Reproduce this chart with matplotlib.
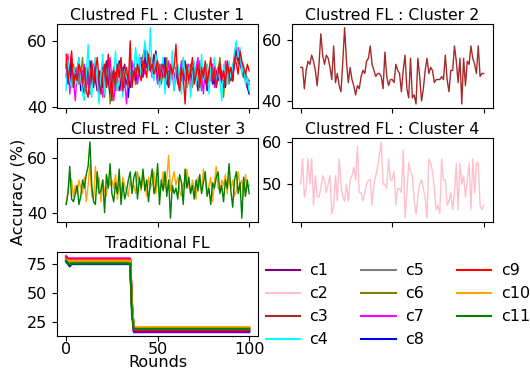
import matplotlib.pyplot as plt
import numpy as np

plt.rcParams['font.size'] = 11.5

names = ['c1', 'c2', 'c3', 'c4', 'c5', 'c6', 'c7', 'c8', 'c9', 'c10', 'c11']
colors = ['purple', 'pink', 'brown', 'cyan', 'gray', 'olive', 'magenta',
          'blue', 'red', 'orange', 'green']

# clustered FL accuracy per client
c1 = [52,50,47,53,49,51,48,52,50,46,44,49,51,47,50,53,48,45,51,49,
      46,50,54,48,44,47,52,50,49,45,48,51,53,47,50,46,49,52,48,51,
      50,53,49,55,52,54,51,53,56,52,50,47,51,49,53,48,46,50,52,49,
      51,47,50,48,53,49,46,51,50,48,52,49,45,51,53,50,48,46,50,52,
      49,47,51,50,53,48,46,50,52,49,51,48,55,57,54,56,52,50,48,46,47]
c4 = [45,54,48,46,52,50,47,55,49,44,42,50,59,46,43,52,55,48,41,50,
      56,44,49,53,47,42,50,57,45,48,55,43,51,49,47,54,46,52,58,50,
      56,49,53,60,55,51,64,50,48,56,53,46,50,55,44,52,49,47,57,45,
      51,53,48,44,55,50,46,52,43,49,54,47,51,45,56,48,50,53,44,52,
      49,55,46,51,48,42,53,50,47,54,49,52,57,60,55,58,50,53,47,49,45]
c5 = [50,49,51,48,50,52,49,47,51,50,48,50,52,49,47,51,50,49,48,51,
      50,52,49,47,50,48,51,50,49,52,48,50,51,49,50,48,52,50,49,51,
      50,52,51,53,52,54,53,52,55,52,51,50,52,49,51,50,48,51,50,49,
      51,50,48,50,52,49,51,50,48,51,50,49,51,48,50,52,49,51,50,48,
      50,49,51,50,52,49,48,51,50,49,52,50,53,55,54,56,53,51,50,49,48]
c6 = [54,48,51,46,53,49,52,47,50,55,45,48,52,44,50,47,53,49,46,51,
      48,43,50,54,41,47,52,45,49,53,48,44,51,50,46,55,48,52,47,50,
      54,51,56,52,57,53,55,50,52,54,49,53,47,51,48,55,46,50,53,47,
      52,49,45,50,55,48,51,47,53,46,50,52,48,54,45,51,49,53,47,50,
      48,52,46,51,55,49,43,50,53,47,51,48,56,58,53,57,52,49,51,47,48]
c7 = [49,56,44,52,48,42,51,55,47,50,53,46,49,44,52,48,54,45,50,47,
      43,51,46,49,55,48,42,47,53,50,45,52,48,41,50,46,54,49,52,47,
      51,55,53,50,57,54,52,49,55,51,47,52,49,53,46,50,54,48,51,45,
      52,48,50,54,47,51,49,53,46,50,48,52,55,47,50,44,52,49,51,48,
      53,46,50,52,48,51,47,54,49,50,52,48,54,56,58,55,53,51,49,47,48]
c8 = [53,47,51,55,46,50,48,53,45,51,49,52,47,54,50,46,52,48,44,50,
      53,49,46,52,50,47,51,45,49,54,48,52,46,50,43,51,49,53,47,50,
      52,55,51,59,53,56,51,54,50,57,52,48,53,50,55,47,51,49,53,46,
      50,52,47,51,49,54,48,50,46,52,49,51,47,53,50,48,52,45,49,51,
      47,53,50,48,52,49,51,46,50,53,48,52,55,57,54,53,51,49,50,46,44]
c9 = [56,48,52,57,46,50,48,53,51,47,52,45,43,49,54,47,51,55,48,44,
      50,53,46,56,48,42,51,47,53,49,55,45,50,52,47,60,46,51,49,53,
      50,48,54,52,49,56,51,53,50,52,54,48,51,53,49,52,47,53,50,52,
      59,48,45,52,49,41,53,48,51,55,47,50,53,46,52,49,54,47,51,55,
      48,52,46,50,53,48,51,47,54,50,52,48,55,53,50,57,54,52,50,53,51]
c3 = [51,51,44,50,53,52,55,53,50,45,52,62,55,52,55,54,51,47,58,46,
      49,45,43,53,64,53,46,51,47,45,42,45,44,48,50,49,53,54,58,52,
      50,48,49,49,48,44,56,48,45,47,47,46,52,50,49,43,50,55,44,41,
      54,41,42,39,54,48,40,44,50,54,49,51,50,46,47,47,47,48,47,55,
      47,43,50,50,58,53,46,54,39,54,45,53,52,58,54,52,49,58,48,49,49]
c10 = [43,48,53,52,46,50,47,52,49,47,53,44,50,58,46,45,57,49,53,44,
       52,48,46,53,50,52,49,54,45,51,47,53,50,48,46,52,49,50,47,55,
       52,48,54,51,46,53,49,51,55,47,52,48,50,55,49,53,61,48,52,55,
       50,53,48,46,51,49,56,50,47,52,49,45,53,50,48,56,52,47,50,53,
       44,51,57,49,48,52,50,54,47,53,49,52,46,48,55,50,52,46,54,49,50]
c11 = [43,47,57,45,44,47,50,43,46,52,49,54,57,66,50,44,43,55,47,48,
       52,40,54,49,58,47,44,51,47,56,43,51,45,48,52,55,47,53,55,45,
       53,49,56,48,52,44,51,56,47,50,58,43,52,48,55,46,52,38,50,47,
       49,45,54,51,43,56,49,53,47,50,45,52,48,54,47,51,55,46,49,43,
       51,49,53,55,47,50,44,52,49,58,48,42,52,55,47,51,38,53,46,52,47]
c2 = [50,56,47,49,56,50,56,45,52,47,47,49,52,51,48,50,52,43,45,52,
      46,56,50,47,46,50,46,51,52,54,51,59,48,48,46,48,50,51,51,45,
      50,52,54,57,60,50,50,49,56,51,51,53,45,49,49,48,58,42,48,55,
      53,52,46,43,47,50,51,49,47,42,56,55,53,49,44,45,43,56,51,51,
      45,46,48,44,48,55,44,55,50,52,47,51,55,44,56,48,55,55,45,44,45]

# drawing order inside each cluster panel
clusters = {
    1: {'c8': c8, 'c6': c6, 'c5': c5, 'c7': c7, 'c1': c1, 'c4': c4, 'c9': c9},
    2: {'c3': c3},
    3: {'c10': c10, 'c11': c11},
    4: {'c2': c2},
}

# traditional FL: flat then collapse around round 36
trad = {
    'c1':  [80, 77, 75.5, 76] + [76]*32 + [38] + [17.5]*64,
    'c2':  [81, 79, 79.5, 79.5] + [79.5]*32 + [40] + [18.5]*64,
    'c3':  [79, 78, 77.5, 77.5] + [77.5]*32 + [39] + [18.5]*64,
    'c4':  [78, 76, 76.5, 76.5] + [76.5]*32 + [37] + [19]*64,
    'c5':  [80, 78, 78.5, 78.5] + [78.5]*32 + [40] + [20]*64,
    'c6':  [79, 77, 77, 77] + [77]*32 + [38] + [20.5]*64,
    'c7':  [82, 80, 80, 80] + [80]*32 + [41] + [16.5]*64,
    'c8':  [77, 75, 73, 75] + [75]*32 + [35] + [17]*64,
    'c9':  [81, 79, 79, 79] + [79]*32 + [40] + [18]*64,
    'c10': [79, 78, 78, 78] + [78]*32 + [39] + [21]*64,
    'c11': [78, 75.5, 74, 75.5] + [75.5]*32 + [30] + [19.5]*64,
}

col = dict(zip(names, colors))

fig, axs = plt.subplots(3, 2, figsize=(5.3, 3.73), dpi=100, sharex=True)
fig.subplots_adjust(left=0.1075, right=0.93, top=0.936, bottom=0.099,
                    hspace=0.36, wspace=0.165)

pos = {1: axs[0, 0], 2: axs[0, 1], 3: axs[1, 0], 4: axs[1, 1]}
for k, ax in pos.items():
    for n, v in clusters[k].items():
        ax.plot(range(len(v)), v, color=col[n], lw=1)
    ax.set_title('Clustred FL : Cluster %d' % k, fontsize=11.3, pad=3)

axs[0, 0].set_yticks([40, 60])
axs[0, 1].set_yticks([40, 60])
axs[1, 0].set_yticks([40, 60])
axs[1, 1].set_yticks([50, 60])

ax = axs[2, 0]
handles = []
for n in names:
    v = trad[n]
    h, = ax.plot(range(len(v)), v, color=col[n], lw=1.5, label=n)
    handles.append(h)
ax.set_title('Traditional FL', fontsize=11.3, pad=3)
ax.set_xlabel('Rounds', labelpad=-1)
ax.tick_params(axis='x', pad=0.5)
ax.set_yticks([25, 50, 75])
ax.set_xticks([0, 50, 100])

axs[2, 1].axis('off')
fig.legend(handles, names, ncol=3, frameon=False, loc='upper left',
           bbox_to_anchor=(0.474, 0.333), handlelength=2.15,
           handletextpad=0.6, columnspacing=2.05, labelspacing=0.5)

fig.text(0.021, 0.485, 'Accuracy (%)', rotation=90, va='center', ha='left')

plt.savefig('out.png')
